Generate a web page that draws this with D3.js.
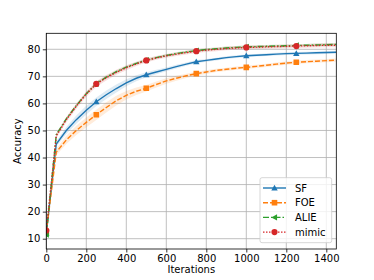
<!DOCTYPE html>
<html><head><meta charset="utf-8">
<script src="https://cdn.jsdelivr.net/npm/d3@7"></script>
<style>body{margin:0;background:#fff}svg{display:block}text{font-family:"DejaVu Sans",sans-serif;fill:#000}</style>
</head><body><svg id="c" width="374" height="280"></svg>
<script>
const iterations = d3.range(0, 1451, 50);
const sf   = [12,45,50,54,57.5,60.6,63.2,65.5,67.6,69.3,70.6,71.6,72.6,73.6,74.5,75.4,75.9,76.4,76.9,77.3,77.6,77.8,78.0,78.2,78.4,78.5,78.6,78.7,78.8,78.9];
const foe  = [12.5,42,46.5,50,53,55.8,58.5,61,63,64.5,65.6,67,68.3,69.3,70.2,71.0,71.6,72.2,72.6,73.0,73.3,73.7,74.1,74.5,74.9,75.2,75.4,75.6,75.8,76.0];
const alie = [11.5,48.5,54.3,59.2,63.6,67.3,69.7,71.7,73.4,74.8,76.0,76.9,77.7,78.4,79.0,79.5,79.9,80.2,80.5,80.7,80.9,81.0,81.1,81.2,81.3,81.4,81.5,81.6,81.7,81.8];
const mimic= [13,48,54,59,63.5,67.2,69.5,71.5,73.2,74.6,75.9,76.8,77.6,78.2,78.8,79.3,79.7,80.0,80.3,80.5,80.7,80.8,80.9,81.0,81.1,81.2,81.3,81.4,81.5,81.5];
const sfStd   = [0.8,1.0,1.3,1.5,1.6,1.6,1.6,1.5,1.3,1.1,0.9,0.8,0.7,0.7,0.6,0.6,0.5,0.5,0.5,0.5,0.5,0.5,0.5,0.5,0.5,0.5,0.5,0.5,0.5,0.5];
const foeStd  = [0.8,1.2,1.5,1.7,1.8,1.9,1.9,1.8,1.6,1.4,1.2,1.1,1.0,0.9,0.8,0.7,0.7,0.6,0.6,0.6,0.6,0.6,0.6,0.6,0.6,0.6,0.6,0.6,0.6,0.6];
const alieStd = [0.5,0.5,0.5,0.5,0.5,0.5,0.5,0.5,0.5,0.5,0.5,0.5,0.5,0.5,0.5,0.5,0.5,0.5,0.5,0.5,0.5,0.5,0.5,0.5,0.5,0.5,0.5,0.5,0.5,0.5];
const mimicStd= [0.8,0.9,1.0,1.0,1.0,1.0,1.0,0.9,0.9,0.8,0.8,0.7,0.7,0.7,0.7,0.7,0.7,0.7,0.7,0.7,0.7,0.7,0.7,0.7,0.7,0.7,0.7,0.7,0.7,0.7];
const seriesNames = ["SF","FOE","ALIE","mimic"];
const xTicks = [0,200,400,600,800,1000,1200,1400];
const yTicks = [10,20,30,40,50,60,70,80];

const series = [
  {name:seriesNames[0], v:sf, s:sfStd, color:"#1f77b4", dash:null, marker:"tri"},
  {name:seriesNames[1], v:foe, s:foeStd, color:"#ff7f0e", dash:"5,2", marker:"sq"},
  {name:seriesNames[2], v:alie, s:alieStd, color:"#2ca02c", dash:"6,2,1.5,2", marker:"tril"},
  {name:seriesNames[3], v:mimic, s:mimicStd, color:"#d62728", dash:"1.5,1.5", marker:"circ"}
];
const L=46.3,R=336.3,T=33.3,B=249;
const svg=d3.select("#c");
const x=d3.scaleLinear().domain([0,1450]).range([L,R]);
const y=d3.scaleLinear().domain([6.19,85.91]).range([B,T]);
const g=svg.append("g");
g.selectAll("line.gx").data(xTicks).join("line").attr("x1",d=>x(d)).attr("x2",d=>x(d)).attr("y1",T).attr("y2",B).attr("stroke","#b0b0b0").attr("stroke-width",0.8);
g.selectAll("line.gy").data(yTicks).join("line").attr("y1",d=>y(d)).attr("y2",d=>y(d)).attr("x1",L).attr("x2",R).attr("stroke","#b0b0b0").attr("stroke-width",0.8);

function markerPath(type,cx,cy){
  const r=3.2;
  if(type==="tri") return `M${cx},${cy-r}L${cx+r},${cy+r*0.8}L${cx-r},${cy+r*0.8}Z`;
  if(type==="tril") return `M${cx-r},${cy}L${cx+r*0.8},${cy-r}L${cx+r*0.8},${cy+r}Z`;
  return `M${cx-2.8},${cy-2.8}h5.6v5.6h-5.6Z`;
}
svg.append("clipPath").attr("id","pc").append("rect").attr("x",L).attr("y",T).attr("width",R-L).attr("height",B-T);
const pg=svg.append("g").attr("clip-path","url(#pc)");
series.forEach(s=>{
  const pts=iterations.map((it,i)=>({x:it,v:s.v[i],s:s.s[i]}));
  pg.append("path").datum(pts).attr("d",d3.area().x(d=>x(d.x)).y0(d=>y(d.v-d.s)).y1(d=>y(d.v+d.s))).attr("fill",s.color).attr("opacity",0.15);
});
series.forEach(s=>{
  const pts=iterations.map((it,i)=>({x:it,v:s.v[i]}));
  pg.append("path").datum(pts).attr("d",d3.line().x(d=>x(d.x)).y(d=>y(d.v))).attr("fill","none").attr("stroke",s.color).attr("stroke-width",1.4).attr("stroke-dasharray",s.dash);
  const mk=pts.filter((d,i)=>i%5===0);
  mk.forEach(d=>{
    if(s.marker==="circ") pg.append("circle").attr("cx",x(d.x)).attr("cy",y(d.v)).attr("r",3.1).attr("fill",s.color);
    else pg.append("path").attr("d",markerPath(s.marker,x(d.x),y(d.v))).attr("fill",s.color);
  });
});
// axes
const ax=svg.append("g").attr("transform",`translate(0,${B})`).call(d3.axisBottom(x).tickValues(xTicks).tickFormat(d3.format("d")).tickSize(3.5).tickPadding(2.5));
const ay=svg.append("g").attr("transform",`translate(${L},0)`).call(d3.axisLeft(y).tickValues(yTicks).tickFormat(d3.format("d")).tickSize(3.5).tickPadding(2.5));
[ax,ay].forEach(a=>{a.select(".domain").remove();a.selectAll("text").attr("font-size",10).attr("font-family","DejaVu Sans").attr("fill","#000");a.selectAll("line").attr("stroke","#000").attr("stroke-width",0.8);});
svg.append("rect").attr("x",L).attr("y",T).attr("width",R-L).attr("height",B-T).attr("fill","none").attr("stroke","#000").attr("stroke-width",0.8);
svg.append("text").attr("x",(L+R)/2).attr("y",273).attr("text-anchor","middle").attr("font-size",10).text("Iterations");
svg.append("text").attr("transform",`translate(21,${(T+B)/2}) rotate(-90)`).attr("text-anchor","middle").attr("font-size",10).text("Accuracy");
// legend
const lg=svg.append("g");
lg.append("rect").attr("x",260).attr("y",177.7).attr("width",71.7).attr("height",65).attr("rx",2).attr("fill","#fff").attr("fill-opacity",0.8).attr("stroke","#cccccc").attr("stroke-width",0.8);
series.forEach((s,i)=>{
  const cy=188+i*14.7;
  lg.append("line").attr("x1",263).attr("x2",286).attr("y1",cy).attr("y2",cy).attr("stroke",s.color).attr("stroke-width",1.4).attr("stroke-dasharray",s.dash);
  if(s.marker==="circ") lg.append("circle").attr("cx",274.5).attr("cy",cy).attr("r",3.1).attr("fill",s.color);
  else lg.append("path").attr("d",markerPath(s.marker,274.5,cy)).attr("fill",s.color);
  lg.append("text").attr("x",295).attr("y",cy+3.6).attr("font-size",10).text(s.name);
});
</script></body></html>
